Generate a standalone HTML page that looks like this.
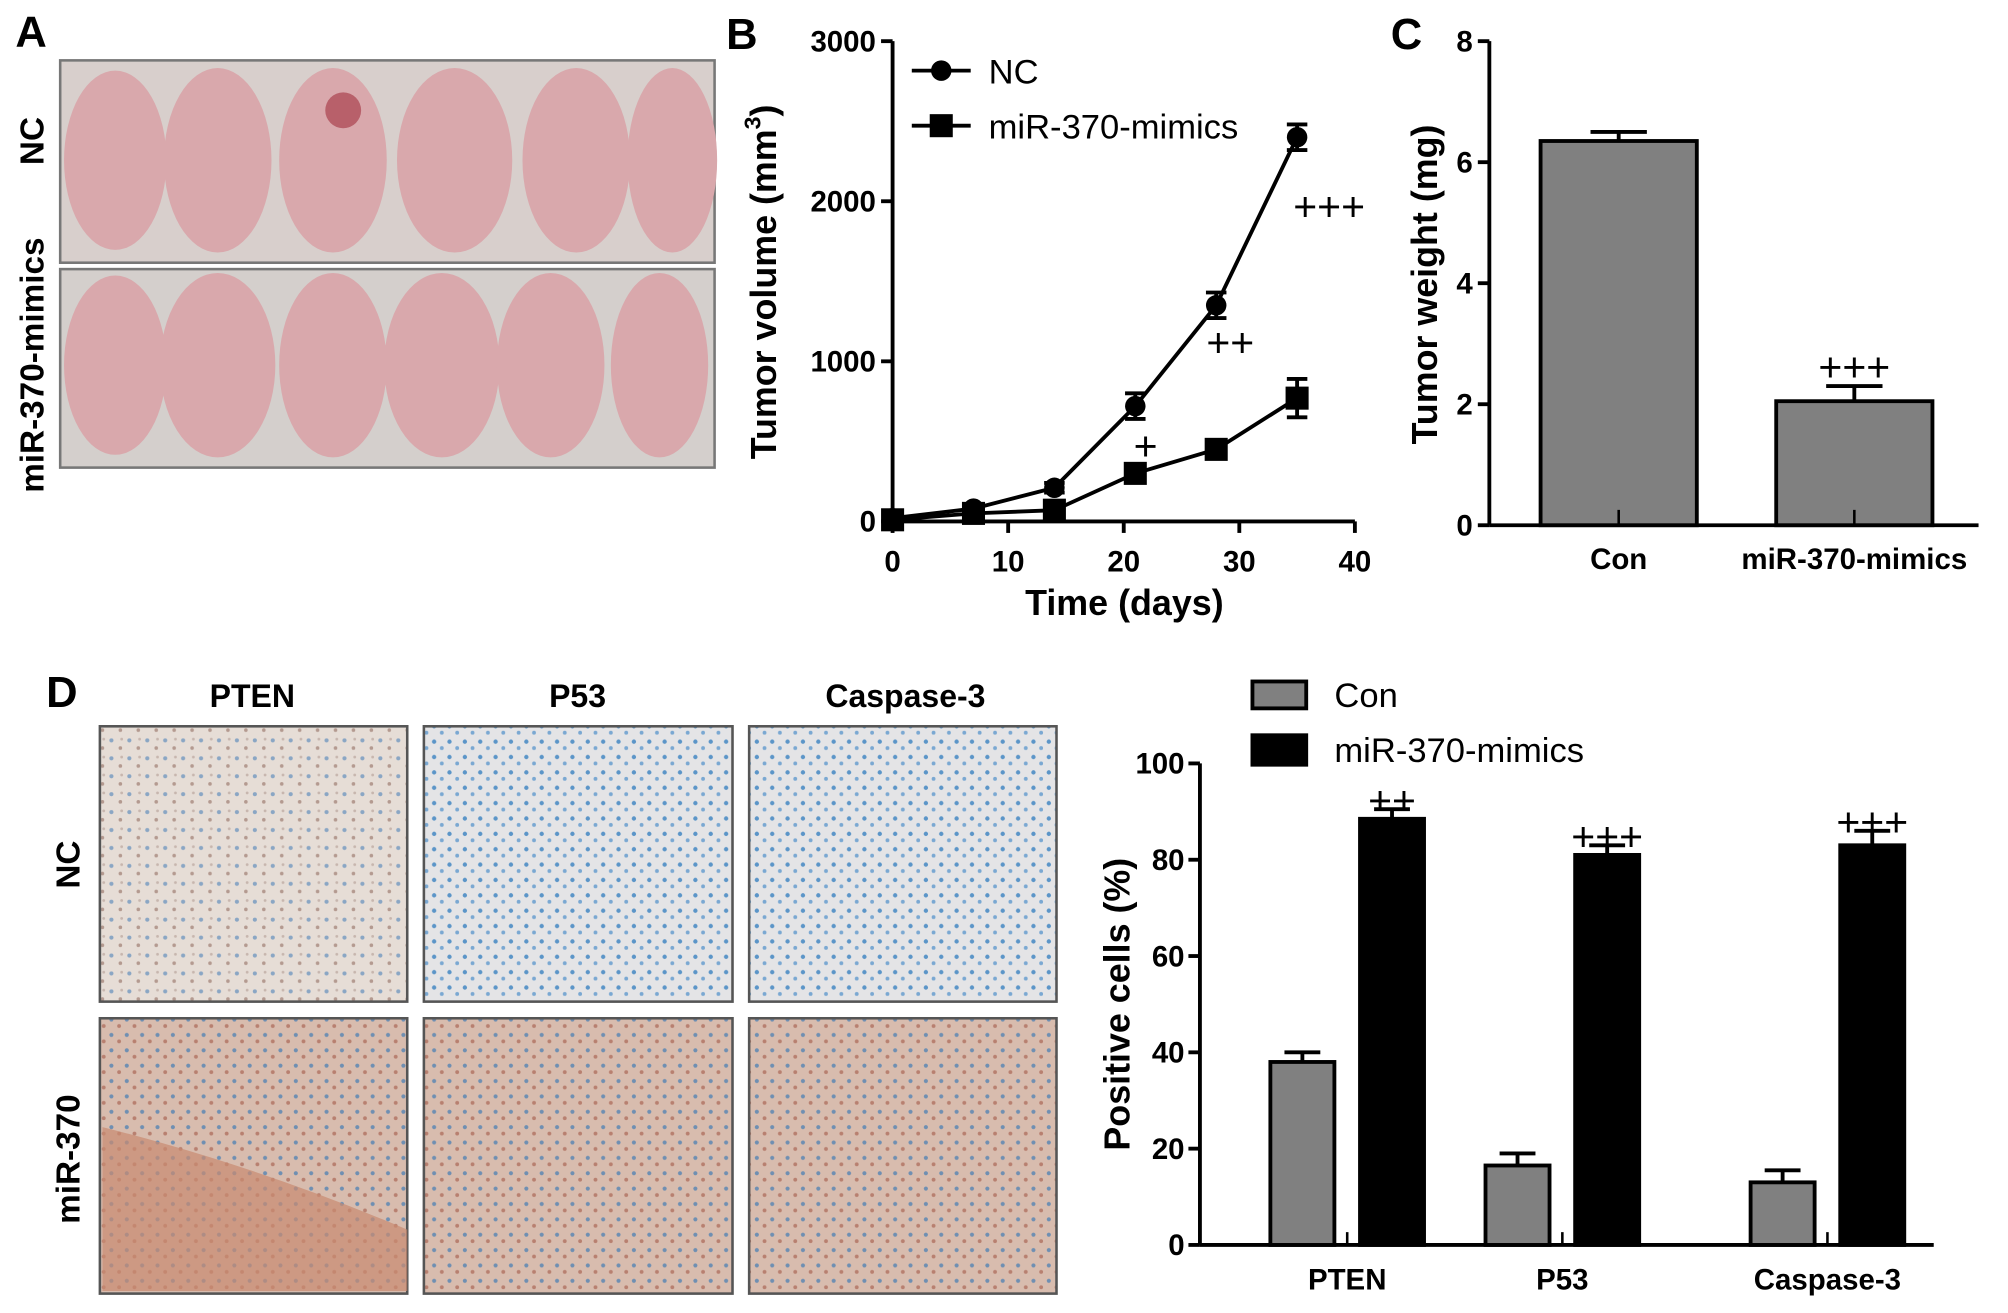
<!DOCTYPE html>
<html><head><meta charset="utf-8"><style>
html,body{margin:0;padding:0;background:#fff}
svg{display:block}
text{font-family:"Liberation Sans",Arial,sans-serif}
.b{font-weight:bold}
</style></head><body>
<svg id="fig" width="2008" height="1313" viewBox="0 0 1568 1025" xmlns="http://www.w3.org/2000/svg">
<defs>
<pattern id="cellsNC" width="14" height="14" patternUnits="userSpaceOnUse">
<rect width="14" height="14" fill="#e6ddd6"/><circle cx="3" cy="4" r="1.6" fill="#8aa6c4"/><circle cx="10" cy="10" r="1.4" fill="#b49a90"/><circle cx="11" cy="3" r="1.1" fill="#c7b6ae"/></pattern>
<pattern id="cellsNCb" width="12" height="12" patternUnits="userSpaceOnUse">
<rect width="12" height="12" fill="#e4e4e6"/><circle cx="3" cy="3" r="1.7" fill="#5b95c8"/><circle cx="9" cy="8" r="1.5" fill="#7aa8d2"/></pattern>
<pattern id="cellsM" width="12" height="12" patternUnits="userSpaceOnUse">
<rect width="12" height="12" fill="#d8bcae"/><circle cx="3" cy="4" r="1.6" fill="#6f8fb2"/><circle cx="9" cy="9" r="1.5" fill="#b88070"/></pattern>
</defs>

<!-- Panel A -->
<g>
<text class="b" x="12" y="36" font-size="34">A</text>
<rect x="47" y="47" width="511" height="158" fill="#d8cfcc" stroke="#777" stroke-width="2"/>
<rect x="47" y="210" width="511" height="155" fill="#d4cfcc" stroke="#777" stroke-width="2"/>
<g fill="#d9a8ac">
<ellipse cx="90" cy="125" rx="40" ry="70"/><ellipse cx="170" cy="125" rx="42" ry="72"/><ellipse cx="260" cy="125" rx="42" ry="72"/><ellipse cx="355" cy="125" rx="45" ry="72"/><ellipse cx="450" cy="125" rx="42" ry="72"/><ellipse cx="525" cy="125" rx="35" ry="72"/>
<ellipse cx="90" cy="285" rx="40" ry="70"/><ellipse cx="170" cy="285" rx="45" ry="72"/><ellipse cx="260" cy="285" rx="42" ry="72"/><ellipse cx="345" cy="285" rx="45" ry="72"/><ellipse cx="430" cy="285" rx="42" ry="72"/><ellipse cx="515" cy="285" rx="38" ry="72"/>
</g>
<circle cx="268" cy="86" r="14" fill="#b8606a"/>
<text class="b" transform="translate(34,110) rotate(-90)" font-size="26" text-anchor="middle">NC</text>
<text class="b" transform="translate(34,285) rotate(-90)" font-size="26" text-anchor="middle">miR-370-mimics</text>
</g>

<!-- Panel B -->
<g id="panelB">
<text class="b" x="567" y="38" font-size="34">B</text>
</g>
<!-- Panel C -->
<g id="panelC">
<text class="b" x="1086" y="38" font-size="34">C</text>
</g>

<!-- Panel D images -->
<g>
<text class="b" x="36" y="552" font-size="34">D</text>
<text class="b" x="197" y="552" font-size="25" text-anchor="middle">PTEN</text>
<text class="b" x="451" y="552" font-size="25" text-anchor="middle">P53</text>
<text class="b" x="707" y="552" font-size="25" text-anchor="middle">Caspase-3</text>
<text class="b" transform="translate(62,675) rotate(-90)" font-size="26" text-anchor="middle">NC</text>
<text class="b" transform="translate(62,905) rotate(-90)" font-size="26" text-anchor="middle">miR-370</text>
<rect x="78" y="567" width="240" height="215" fill="url(#cellsNC)" stroke="#555" stroke-width="2"/>
<rect x="331" y="567" width="241" height="215" fill="url(#cellsNCb)" stroke="#555" stroke-width="2"/>
<rect x="585" y="567" width="240" height="215" fill="url(#cellsNCb)" stroke="#555" stroke-width="2"/>
<rect x="78" y="795" width="240" height="215" fill="url(#cellsM)" stroke="#555" stroke-width="2"/>
<path d="M80 880 Q200 910 318 960 L318 1008 L80 1008 Z" fill="#c98a70" opacity="0.7"/>
<rect x="331" y="795" width="241" height="215" fill="url(#cellsM)" stroke="#555" stroke-width="2"/>
<rect x="585" y="795" width="240" height="215" fill="url(#cellsM)" stroke="#555" stroke-width="2"/>
</g>

<!-- Panel D chart -->
<g id="panelD"></g>
</svg>
<script>
const NS='http://www.w3.org/2000/svg';
function mk(parent,tag,attrs,txt){const e=document.createElementNS(NS,tag);for(const k in attrs)e.setAttribute(k,attrs[k]);if(txt!==undefined)e.textContent=txt;parent.appendChild(e);return e;}

// ---- Panel B data ----
const bDays=[0,7,14,21,28,35];
const bNC=[20,80,210,720,1350,2400];
const bNCerr=[15,25,30,80,80,80];
const bMim=[10,50,70,300,450,770];
const bMimErr=[10,15,20,30,30,120];
const bYTicks=[0,1000,2000,3000];
const bXTicks=[0,10,20,30,40];
const bSig=['','','','+','++','+++'];

const B=document.getElementById('panelB');
const bx=d=>697+d*9.025, by=v=>407-v*0.125;
let e;
e=mk(B,'line',{x1:697,y1:by(3000),x2:697,y2:407,stroke:'#000','stroke-width':3});

e=mk(B,'line',{x1:697,y1:407,x2:bx(40),y2:407,stroke:'#000','stroke-width':3});

bYTicks.forEach(t=>{mk(B,'line',{x1:688,y1:by(t),x2:697,y2:by(t),stroke:'#000','stroke-width':3});
e=mk(B,'text',{x:684,y:by(t)+8,'font-size':23,'font-weight':'bold','text-anchor':'end'},t);
});
bXTicks.forEach(t=>{mk(B,'line',{x1:bx(t),y1:407,x2:bx(t),y2:416,stroke:'#000','stroke-width':3});
e=mk(B,'text',{x:bx(t),y:446,'font-size':23,'font-weight':'bold','text-anchor':'middle'},t);
});
e=mk(B,'text',{x:878,y:480,'font-size':28,'font-weight':'bold','text-anchor':'middle'},'Time (days)');

e=mk(B,'text',{transform:'translate(606,220) rotate(-90)','font-size':28,'font-weight':'bold','text-anchor':'middle'});

e.innerHTML='Tumor volume (mm<tspan font-size="18" dy="-12">3</tspan><tspan dy="12">)</tspan>';
function series(vals,errs,name,square){
  mk(B,'polyline',{points:bDays.map((d,i)=>bx(d)+','+by(vals[i])).join(' '),fill:'none',stroke:'#000','stroke-width':3});
  bDays.forEach((d,i)=>{const x=bx(d),y=by(vals[i]);
    mk(B,'path',{d:`M${x-8} ${by(vals[i]+errs[i])}H${x+8}M${x} ${by(vals[i]+errs[i])}V${by(vals[i]-errs[i])}M${x-8} ${by(vals[i]-errs[i])}H${x+8}`,stroke:'#000','stroke-width':3,fill:'none'});
    const m=square?mk(B,'rect',{x:x-9,y:y-9,width:18,height:18,fill:'#000'}):mk(B,'circle',{cx:x,cy:y,r:8,fill:'#000'});
    });
}
series(bNC,bNCerr,'nc',false);series(bMim,bMimErr,'mimics',true);
// significance placed below NC points (offset in px)
const sigOff=[[0,0],[0,0],[0,0],[8,42],[11,40],[25,-75]];
bSig.forEach((s,i)=>{if(!s)return;
e=mk(B,'text',{x:bx(bDays[i])+sigOff[i][0],y:by(bNC[i])+sigOff[i][1]+(i==5?140:0),'font-size':32,'text-anchor':'middle'},s);
});
// legend
mk(B,'line',{x1:712,y1:55,x2:758,y2:55,stroke:'#000','stroke-width':3});
mk(B,'circle',{cx:735,cy:55,r:8,fill:'#000'});
e=mk(B,'text',{x:772,y:65,'font-size':27},'NC');
mk(B,'line',{x1:712,y1:98,x2:758,y2:98,stroke:'#000','stroke-width':3});
mk(B,'rect',{x:726,y:89,width:18,height:18,fill:'#000'});
e=mk(B,'text',{x:772,y:108,'font-size':27},'miR-370-mimics');

// ---- Panel C data ----
const cCats=['Con','miR-370-mimics'];
const cVals=[6.35,2.05];
const cErr=[0.15,0.25];
const cYTicks=[0,2,4,6,8];
const cSig=['','+++'];
const C=document.getElementById('panelC');
const cy=v=>410-v*47.25, cxs=[1203,1387], cw=122;
mk(C,'line',{x1:1163,y1:cy(8),x2:1163,y2:410,stroke:'#000','stroke-width':3});
mk(C,'line',{x1:1163,y1:410,x2:1545,y2:410,stroke:'#000','stroke-width':3});
cYTicks.forEach(t=>{mk(C,'line',{x1:1154,y1:cy(t),x2:1163,y2:cy(t),stroke:'#000','stroke-width':3});
e=mk(C,'text',{x:1150,y:cy(t)+8,'font-size':23,'font-weight':'bold','text-anchor':'end'},t);
});
e=mk(C,'text',{transform:'translate(1122,222) rotate(-90)','font-size':28,'font-weight':'bold','text-anchor':'middle'},'Tumor weight (mg)');

cCats.forEach((c,i)=>{const x=cxs[i],top=cy(cVals[i]);
 e=mk(C,'rect',{x:x,y:top,width:cw,height:410-top,fill:'#808080',stroke:'#000','stroke-width':3});
 
 const mx=x+cw/2,et=cy(cVals[i]+cErr[i]);
 mk(C,'path',{d:`M${mx} ${top}V${et}M${mx-22} ${et}H${mx+22}`,stroke:'#000','stroke-width':3});
 mk(C,'line',{x1:mx,y1:398,x2:mx,y2:410,stroke:'#000','stroke-width':2});
 e=mk(C,'text',{x:mx,y:444,'font-size':23,'font-weight':'bold','text-anchor':'middle'},c);
 
 if(cSig[i]){e=mk(C,'text',{x:mx,y:et-4,'font-size':32,'text-anchor':'middle'},cSig[i]);}
});

// ---- Panel D data ----
const dCats=['PTEN','P53','Caspase-3'];
const dCon=[38,16.5,13];
const dConErr=[2,2.5,2.5];
const dMim=[88.5,81,83];
const dMimErr=[2,2,3];
const dYTicks=[0,20,40,60,80,100];
const dSig=['++','+++','+++'];
const D=document.getElementById('panelD');
const dy=v=>972-v*3.76, gx=[992,1160,1367], bw=50;
mk(D,'line',{x1:937,y1:dy(100),x2:937,y2:972,stroke:'#000','stroke-width':3});
mk(D,'line',{x1:937,y1:972,x2:1510,y2:972,stroke:'#000','stroke-width':3});
dYTicks.forEach(t=>{mk(D,'line',{x1:928,y1:dy(t),x2:937,y2:dy(t),stroke:'#000','stroke-width':3});
e=mk(D,'text',{x:925,y:dy(t)+8,'font-size':23,'font-weight':'bold','text-anchor':'end'},t);
});
e=mk(D,'text',{transform:'translate(882,784) rotate(-90)','font-size':28,'font-weight':'bold','text-anchor':'middle'},'Positive cells (%)');

function dbar(x,v,er,fill,name){const top=dy(v);
 e=mk(D,'rect',{x:x,y:top,width:bw,height:972-top,fill:fill,stroke:'#000','stroke-width':3});
 
 const et=dy(v+er);mk(D,'path',{d:`M${x+bw/2} ${top}V${et}M${x+bw/2-14} ${et}H${x+bw/2+14}`,stroke:'#000','stroke-width':3});}
dCats.forEach((c,i)=>{
 dbar(gx[i],dCon[i],dConErr[i],'#808080','d-bar-con-'+c);
 dbar(gx[i]+70,dMim[i],dMimErr[i],'#000','d-bar-mimics-'+c);
 mk(D,'line',{x1:gx[i]+60,y1:962,x2:gx[i]+60,y2:972,stroke:'#000','stroke-width':2});
 e=mk(D,'text',{x:gx[i]+60,y:1007,'font-size':23,'font-weight':'bold','text-anchor':'middle'},c);
 
 e=mk(D,'text',{x:gx[i]+95,y:dy(dMim[i]+dMimErr[i])+4,'font-size':32,'text-anchor':'middle'},dSig[i]);
 
});
e=mk(D,'rect',{x:978,y:532,width:42,height:21,fill:'#808080',stroke:'#000','stroke-width':3});

e=mk(D,'text',{x:1042,y:552,'font-size':27},'Con');
e=mk(D,'rect',{x:978,y:574,width:42,height:23,fill:'#000',stroke:'#000','stroke-width':3});

e=mk(D,'text',{x:1042,y:595,'font-size':27},'miR-370-mimics');
</script>
</body></html>
